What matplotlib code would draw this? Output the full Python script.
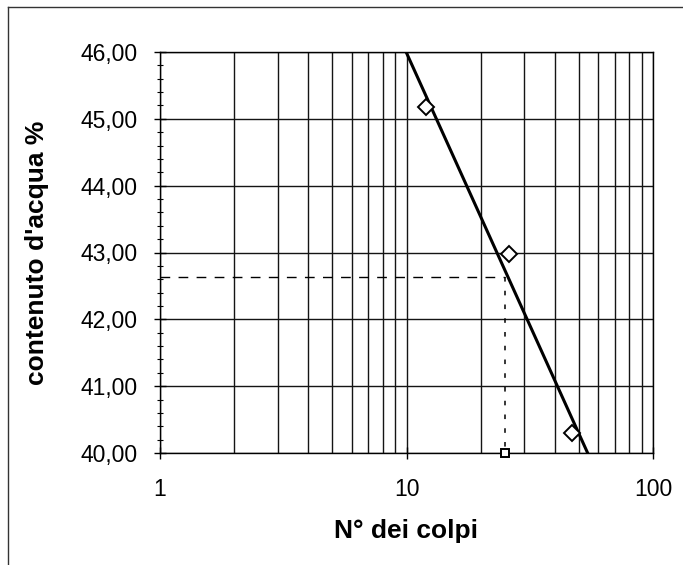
import numpy as np
import matplotlib
matplotlib.use('Agg')
import matplotlib.pyplot as plt
from matplotlib.lines import Line2D
from matplotlib.ticker import FixedLocator, FuncFormatter, NullFormatter

# Casagrande test readings
blows = [12, 26, 47]
water_content = [45.18, 42.98, 40.30]

# liquid limit construction: 25 blows -> water content
ref_blows = 25
liquid_limit = 42.63

y_ticks = [40, 41, 42, 43, 44, 45, 46]
x_ticks = [1, 10, 100]
x_minor = [2, 3, 4, 5, 6, 7, 8, 9, 20, 30, 40, 50, 60, 70, 80, 90]


def plot_chart():
    plt.rcParams['font.family'] = ['Liberation Sans', 'DejaVu Sans']

    fig = plt.figure(figsize=(6.83, 5.65), dpi=100)
    ax = fig.add_axes([160 / 683, 1 - 453 / 565, 493 / 683, 401 / 565])

    ax.set_xscale('log')
    ax.set_xlim(1, 100)
    ax.set_ylim(40, 46)

    # grid: every decade subdivision on x, every unit on y
    grid_kw = dict(color='#141414', lw=1.0, zorder=1)
    for xv in x_minor + x_ticks:
        ax.axvline(xv, **grid_kw)
    for yv in y_ticks:
        ax.axhline(yv, **grid_kw)

    # logarithmic trend line (w = a*log10(N) + b)
    a, b = np.polyfit(np.log10(blows), water_content, 1)
    xs = np.logspace(0, 2, 200)
    ax.plot(xs, a * np.log10(xs) + b, color='black', lw=2.2, zorder=3)

    # measured points
    ax.plot(blows, water_content, linestyle='none', marker='D', markersize=8,
            markerfacecolor='white', markeredgecolor='black', markeredgewidth=1.4, zorder=4)

    # liquid limit construction lines
    ax.plot([1, ref_blows], [liquid_limit, liquid_limit], color='black', lw=1.0,
            dashes=(7, 6), zorder=2)
    ax.plot([ref_blows, ref_blows], [liquid_limit, 40], color='black', lw=1.1,
            dashes=(3, 6), zorder=2)
    ax.plot([ref_blows], [40], linestyle='none', marker='s', markersize=5.5,
            markerfacecolor='white', markeredgecolor='black', markeredgewidth=1.4,
            zorder=5, clip_on=False)

    # ticks
    ax.xaxis.set_major_locator(FixedLocator(x_ticks))
    ax.xaxis.set_minor_locator(FixedLocator([]))
    ax.xaxis.set_major_formatter(FuncFormatter(lambda v, p: '%d' % v))
    ax.xaxis.set_minor_formatter(NullFormatter())
    ax.yaxis.set_major_locator(FixedLocator(y_ticks))
    ax.yaxis.set_minor_locator(FixedLocator(np.arange(40, 46.01, 0.2)))
    ax.yaxis.set_major_formatter(FuncFormatter(lambda v, p: ('%.2f' % v).replace('.', ',')))

    ax.tick_params(axis='both', which='major', direction='inout', length=8, width=1,
                   labelsize=16.5, colors='black')
    ax.tick_params(axis='y', which='major', pad=12)
    ax.tick_params(axis='x', which='major', pad=14)
    ax.tick_params(axis='y', which='minor', direction='inout', length=5, width=0.8)

    for sp in ax.spines.values():
        sp.set_color('black')
        sp.set_linewidth(1.0)
    ax.set_axisbelow(False)

    ax.set_xlabel('N° dei colpi', fontsize=19, fontweight='bold', labelpad=13)
    ax.set_ylabel("contenuto d'acqua %", fontsize=19, fontweight='bold')
    ax.yaxis.set_label_coords(-0.225, 0.5)

    # chart-area border (only the left and top edges are in the scan)
    fig.add_artist(Line2D([8 / 683, 8 / 683], [0, 1 - 7 / 565], transform=fig.transFigure,
                          color='#333333', lw=1.0))
    fig.add_artist(Line2D([8 / 683, 1], [1 - 7 / 565, 1 - 7 / 565], transform=fig.transFigure,
                          color='#333333', lw=1.0))

    fig.savefig('out.png', dpi=100, facecolor='white')


plot_chart()
